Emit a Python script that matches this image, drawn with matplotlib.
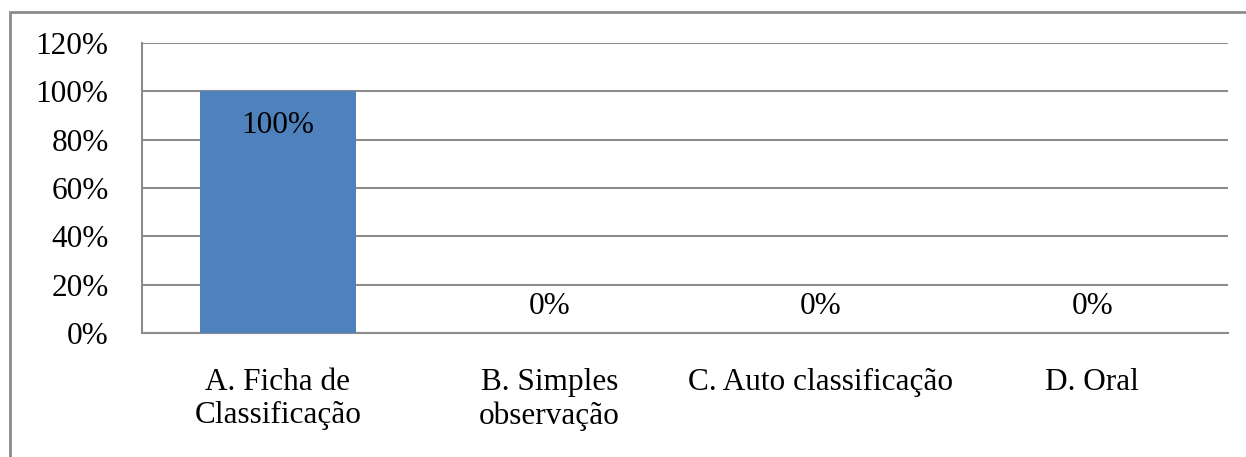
import matplotlib
matplotlib.use("Agg")
import matplotlib.pyplot as plt
from matplotlib.patches import Rectangle
from matplotlib.ticker import FuncFormatter

categories = ["A. Ficha de\nClassificação", "B. Simples\nobservação", "C. Auto classificação", "D. Oral"]
values = [1.0, 0.0, 0.0, 0.0]
y_ticks = [0, 0.2, 0.4, 0.6, 0.8, 1.0, 1.2]

plt.rcParams['font.family'] = ['Liberation Serif', 'DejaVu Serif']
fs = 22.5

fig = plt.figure(figsize=(12.46, 4.57), dpi=100)
W, H = 1246, 457
# outer chart frame (cropped at right/bottom)
fig.patches.append(Rectangle((10 / W, -0.05), 1.2, 1 - 12 / H + 0.05, transform=fig.transFigure,
                             fill=False, edgecolor='#8c8c8c', linewidth=2.0))

ax = fig.add_axes([142 / W, 1 - 333 / H, (1228 - 142) / W, (333 - 43) / H])
x = range(len(categories))
ax.bar(x, values, width=0.575, color='#4f81bd', zorder=3)
ax.set_xlim(-0.5, len(categories) - 0.5)
ax.set_ylim(0, 1.2)
ax.set_yticks(y_ticks)
ax.yaxis.set_major_formatter(FuncFormatter(lambda v, p: f"{v*100:.0f}%"))
ax.grid(axis='y', color='#8c8c8c', linewidth=1.5, zorder=0)
ax.set_axisbelow(True)
for s in ['top', 'right']:
    ax.spines[s].set_visible(False)
ax.spines['left'].set_color('#8c8c8c')
ax.spines['left'].set_linewidth(1.5)
ax.spines['bottom'].set_color('#8c8c8c')
ax.spines['bottom'].set_linewidth(1.5)
ax.tick_params(axis='both', length=0, labelsize=fs)
ax.tick_params(axis='y', pad=24)
ax.tick_params(axis='x', pad=25.5)
ax.set_xticks(list(x))
ax.set_xticklabels(categories, linespacing=1.17)

for i, v in enumerate(values):
    label = f"{v*100:.0f}%"
    if v > 0:
        ax.annotate(label, (i, v), xytext=(0, -14), textcoords='offset points',
                    ha='center', va='top', fontsize=fs)
    else:
        ax.annotate(label, (i, v), xytext=(0, 9), textcoords='offset points',
                    ha='center', va='bottom', fontsize=fs)

fig.savefig("out.png", dpi=100)
